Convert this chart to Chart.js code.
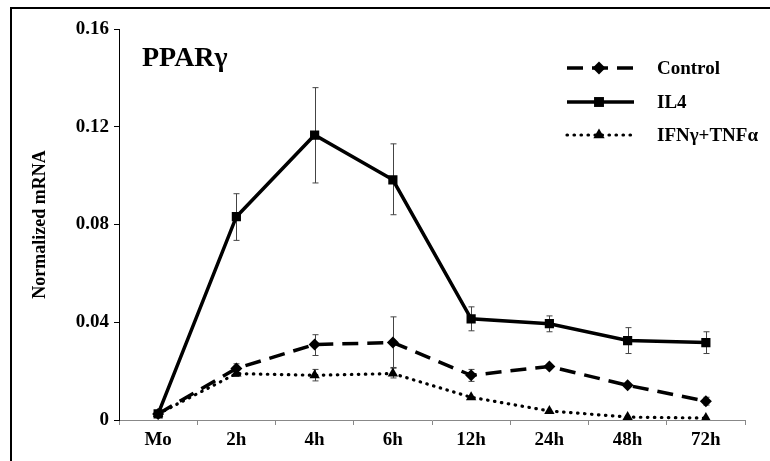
<!DOCTYPE html>
<html>
<head>
<meta charset="utf-8">
<script src="https://cdn.jsdelivr.net/npm/chart.js@4/dist/chart.umd.min.js"></script>
<style>
  html, body { margin: 0; padding: 0; background: #fff; }
  #c { display: block; }
</style>
</head>
<body>
<canvas id="c" width="770" height="461"></canvas>
<script>
// ---- data ----
const categories = ['Mo', '2h', '4h', '6h', '12h', '24h', '48h', '72h'];
const yTickLabels = ['0', '0.04', '0.08', '0.12', '0.16'];
const seriesNames = ['Control', 'IL4', 'IFN\u03b3+TNF\u03b1'];
const chartTitle = 'PPAR\u03b3';
const yAxisTitle = 'Normalized mRNA';

const controlValues = [0.0025, 0.0211, 0.0309, 0.0317, 0.0183, 0.0219, 0.0142, 0.0077];
const il4Values     = [0.0025, 0.0832, 0.1166, 0.0983, 0.0414, 0.0394, 0.0325, 0.0317];
const ifnValues     = [0.0025, 0.0190, 0.0183, 0.0190, 0.0093, 0.0037, 0.0012, 0.0008];

const controlErrHigh = [null, 0.0230, 0.0349, 0.0422, 0.0207, null, null, 0.0093];
const controlErrLow  = [null, 0.0192, 0.0264, 0.0215, 0.0158, null, null, 0.0061];
const il4ErrHigh     = [null, 0.0926, 0.1360, 0.1130, 0.0463, 0.0426, 0.0378, 0.0361];
const il4ErrLow      = [null, 0.0735, 0.0970, 0.0840, 0.0365, 0.0361, 0.0272, 0.0272];
const ifnErrHigh     = [null, 0.0205, 0.0207, 0.0212, null, null, null, null];
const ifnErrLow      = [null, 0.0178, 0.0160, 0.0172, null, null, null, null];

// ---- styling ----
const SERIF = "'Liberation Serif', 'Times New Roman', serif";

const errorBarPlugin = {
  id: 'errorBars',
  beforeDatasetsDraw(chart) {
    const ctx = chart.ctx;
    const y = chart.scales.y;
    ctx.save();
    ctx.strokeStyle = '#444';
    ctx.lineWidth = 1;
    chart.data.datasets.forEach((ds, di) => {
      const meta = chart.getDatasetMeta(di);
      meta.data.forEach((pt, i) => {
        const hi = ds.errHigh[i], lo = ds.errLow[i];
        if (hi == null || lo == null) return;
        const x = Math.round(pt.x) + 0.5;
        const y1 = y.getPixelForValue(hi), y2 = y.getPixelForValue(lo);
        ctx.beginPath();
        ctx.moveTo(x, y1); ctx.lineTo(x, y2);
        ctx.moveTo(x - 3, y1); ctx.lineTo(x + 3, y1);
        ctx.moveTo(x - 3, y2); ctx.lineTo(x + 3, y2);
        ctx.stroke();
      });
    });
    ctx.restore();
  }
};

const decorPlugin = {
  id: 'decor',
  afterDraw(chart) {
    const ctx = chart.ctx;
    ctx.save();
    // frame
    ctx.strokeStyle = '#000';
    ctx.lineWidth = 2;
    ctx.beginPath();
    ctx.moveTo(11, 461); ctx.lineTo(11, 8); ctx.lineTo(770, 8);
    ctx.stroke();
    // title
    ctx.fillStyle = '#000';
    ctx.font = 'bold 28px ' + SERIF;
    ctx.textAlign = 'left';
    ctx.textBaseline = 'alphabetic';
    ctx.fillText(chartTitle, 142, 66);
    // legend
    const rows = [68, 102, 135];
    chart.data.datasets.forEach((ds, i) => {
      const yy = rows[i];
      ctx.save();
      ctx.strokeStyle = '#000';
      ctx.lineWidth = ds.borderWidth;
      ctx.lineCap = ds.borderCapStyle || 'butt';
      ctx.setLineDash(ds.borderDash || []);
      ctx.beginPath();
      ctx.moveTo(567, yy); ctx.lineTo(634, yy);
      ctx.stroke();
      ctx.restore();
      ctx.fillStyle = '#000';
      Chart.helpers.drawPoint(ctx, {pointStyle: ds.pointStyle, radius: ds.pointRadius + 0.5, borderWidth: 0}, 599, yy);
      ctx.fillStyle = '#000';
      ctx.font = 'bold 19px ' + SERIF;
      ctx.textBaseline = 'middle';
      ctx.fillText(ds.label, 657, yy + 1);
    });
    ctx.restore();
  }
};

function mkDataset(label, data, hi, lo, style, radius, dash, width, cap) {
  return {
    label, data, errHigh: hi, errLow: lo,
    borderColor: '#000', backgroundColor: '#000',
    borderWidth: width, borderDash: dash, borderCapStyle: cap,
    pointStyle: style, pointRadius: radius, pointBorderWidth: 0,
    pointBackgroundColor: '#000', tension: 0, fill: false
  };
}

new Chart(document.getElementById('c'), {
  type: 'line',
  data: {
    labels: categories,
    datasets: [
      mkDataset(seriesNames[0], controlValues, controlErrHigh, controlErrLow, 'rectRot', 6, [16, 9], 3.5, 'butt'),
      mkDataset(seriesNames[1], il4Values, il4ErrHigh, il4ErrLow, 'rect', 6.5, [], 3.5, 'butt'),
      mkDataset(seriesNames[2], ifnValues, ifnErrHigh, ifnErrLow, 'triangle', 6, [0.5, 6.5], 3.2, 'round')
    ]
  },
  options: {
    responsive: false,
    animation: false,
    events: [],
    layout: { padding: { left: 0, right: 25, top: 29, bottom: 0 } },
    plugins: { legend: { display: false }, tooltip: { enabled: false } },
    scales: {
      x: {
        type: 'category',
        offset: true,
        grid: { offset: true, drawOnChartArea: false, tickLength: 5, color: '#888' },
        border: { color: '#888', width: 1 },
        ticks: { color: '#000', font: { family: SERIF, size: 19, weight: 'bold' }, padding: 4, maxRotation: 0, autoSkip: false },
        afterFit(s) { s.height = 41; }
      },
      y: {
        min: 0, max: 0.16,
        ticks: {
          stepSize: 0.04, color: '#000', padding: 5,
          font: { family: SERIF, size: 19, weight: 'bold' },
          callback: (v, i) => yTickLabels[i]
        },
        grid: { drawOnChartArea: false, tickLength: 5, color: '#000' },
        border: { color: '#000', width: 1 },
        title: {
          display: true, text: yAxisTitle, color: '#000',
          font: { family: SERIF, size: 18, weight: 'bold' },
          padding: { top: 30, bottom: 0 }
        },
        afterFit(s) { s.width = 119; }
      }
    }
  },
  plugins: [errorBarPlugin, decorPlugin]
});
</script>
</body>
</html>
